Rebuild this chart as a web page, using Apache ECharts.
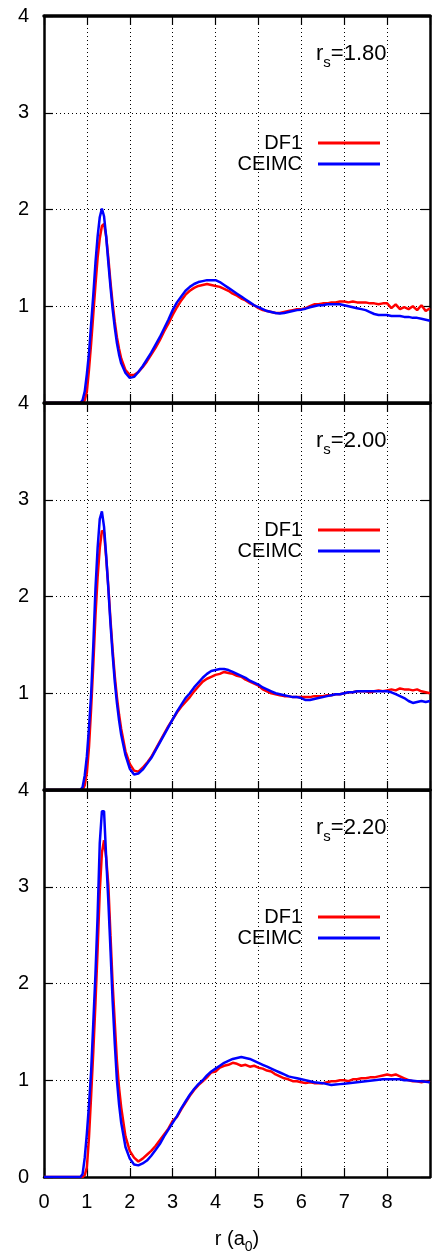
<!DOCTYPE html>
<html><head><meta charset="utf-8">
<script src="https://cdn.jsdelivr.net/npm/echarts@6/dist/echarts.min.js"></script>
<style>html,body{margin:0;padding:0;background:#fff}#c{width:433px;height:1255px}</style>
</head><body><div id="c"></div>
<script>
// r grid (a0)
const r = [0, 0.8, 0.85, 0.9, 0.95, 1.0, 1.05, 1.1, 1.15, 1.2, 1.25, 1.3, 1.35, 1.4, 1.45, 1.5, 1.55, 1.6, 1.65, 1.7, 1.75, 1.8,
  1.9,
  2.0, 2.1, 2.2, 2.3, 2.4, 2.5, 2.6, 2.7, 2.8, 2.9,
  3.0, 3.1, 3.2, 3.3, 3.4, 3.5, 3.6, 3.7, 3.8, 3.9,
  4.0, 4.1, 4.2, 4.3, 4.4, 4.5, 4.6, 4.7, 4.8, 4.9,
  5.0, 5.1, 5.2, 5.3, 5.4, 5.5, 5.6, 5.7, 5.8, 5.9,
  6.0, 6.1, 6.2, 6.3, 6.4, 6.5, 6.6, 6.7, 6.8, 6.9,
  7.0, 7.1, 7.2, 7.3, 7.4, 7.5, 7.6, 7.7, 7.8, 7.9,
  8.0, 8.1, 8.2, 8.3, 8.4, 8.5, 8.6, 8.7, 8.8, 8.9,
  9.0];

const panelLabels = ['1.80', '2.00', '2.20'];
const seriesNames = ['DF1', 'CEIMC'];
const seriesColors = ['#ff0000', '#0000ff'];

const df1_rs180 = [0, 0, 0, 0, 0.03, 0.12, 0.35, 0.62, 0.92, 1.22, 1.5, 1.7, 1.83, 1.85, 1.72, 1.5, 1.25, 1.03, 0.84, 0.68, 0.56, 0.46,
  0.34,
  0.29, 0.29, 0.32, 0.37, 0.43, 0.5, 0.57, 0.65, 0.74, 0.82,
  0.91, 0.99, 1.06, 1.12, 1.16, 1.19, 1.21, 1.22, 1.23, 1.22,
  1.21, 1.2, 1.18, 1.16, 1.13, 1.11, 1.08, 1.06, 1.03, 1.01,
  0.98, 0.96, 0.95, 0.94, 0.93, 0.93, 0.94, 0.95, 0.96, 0.97,
  0.97, 0.98, 1.0, 1.02, 1.02, 1.03, 1.03, 1.04, 1.04, 1.05,
  1.05, 1.04, 1.05, 1.04, 1.04, 1.04, 1.03, 1.03, 1.02, 1.03,
  1.03, 0.98, 1.02, 0.97, 0.99, 0.97, 1.0, 0.96, 1.01, 0.95,
  0.98];
const ceimc_rs180 = [0, 0, 0, 0.03, 0.12, 0.3, 0.52, 0.82, 1.12, 1.45, 1.72, 1.92, 2.01, 1.93, 1.72, 1.45, 1.2, 0.97, 0.78, 0.62, 0.5, 0.41,
  0.31,
  0.26, 0.27, 0.32, 0.38, 0.45, 0.52, 0.6, 0.68, 0.77, 0.86,
  0.96, 1.04, 1.1, 1.16, 1.2, 1.23, 1.25, 1.26, 1.27, 1.27,
  1.27, 1.25, 1.22, 1.19, 1.16, 1.13, 1.1, 1.07, 1.04, 1.01,
  0.99, 0.97, 0.95, 0.94, 0.93, 0.925, 0.93, 0.94, 0.95, 0.96,
  0.965, 0.975, 0.99, 1.0, 1.01, 1.01, 1.02, 1.02, 1.02, 1.02,
  1.01, 1.0, 0.99, 0.98, 0.97, 0.96, 0.94, 0.92, 0.91, 0.91,
  0.91, 0.9, 0.9, 0.9, 0.89, 0.89, 0.88, 0.88, 0.87, 0.86,
  0.85];

const df1_rs200 = [0, 0, 0, 0, 0.05, 0.18, 0.45, 0.85, 1.3, 1.8, 2.2, 2.5, 2.68, 2.66, 2.4, 2.1, 1.76, 1.45, 1.18, 0.96, 0.78, 0.63,
  0.4,
  0.27, 0.2, 0.19, 0.23, 0.28, 0.34, 0.42, 0.5, 0.58, 0.66,
  0.73, 0.8, 0.86, 0.91, 0.96, 1.02, 1.07, 1.12, 1.15, 1.17,
  1.19, 1.2, 1.22, 1.21, 1.2, 1.18, 1.17, 1.14, 1.12, 1.1,
  1.08, 1.04, 1.02, 1.0, 0.99, 0.98, 0.97, 0.97, 0.96, 0.96,
  0.96, 0.96, 0.96, 0.97, 0.97, 0.97, 0.98, 0.98, 0.99, 0.99,
  1.0, 1.01, 1.01, 1.02, 1.02, 1.02, 1.01, 1.02, 1.03, 1.02,
  1.03, 1.04, 1.03, 1.05, 1.04, 1.04, 1.03, 1.04, 1.02, 1.01,
  1.0];
const ceimc_rs200 = [0, 0, 0, 0.03, 0.15, 0.35, 0.65, 1.0, 1.5, 2.08, 2.5, 2.8, 2.88, 2.72, 2.42, 2.08, 1.72, 1.4, 1.12, 0.9, 0.72, 0.57,
  0.36,
  0.22, 0.16, 0.17, 0.21, 0.27, 0.33, 0.41, 0.49, 0.57, 0.65,
  0.73, 0.81, 0.88, 0.95, 1.0, 1.06, 1.11, 1.16, 1.2, 1.23,
  1.24, 1.25, 1.25, 1.24, 1.22, 1.2, 1.18, 1.16, 1.13, 1.11,
  1.09, 1.06, 1.04, 1.02, 1.0, 0.99, 0.98, 0.97, 0.96, 0.96,
  0.95, 0.93, 0.93, 0.94, 0.95, 0.96, 0.97, 0.98, 0.99, 0.99,
  1.0, 1.01, 1.01, 1.02, 1.02, 1.02, 1.02, 1.02, 1.02, 1.02,
  1.02, 1.01, 0.99, 0.97, 0.95, 0.92, 0.9, 0.91, 0.92, 0.91,
  0.92];

const df1_rs220 = [0, 0, 0, 0, 0.02, 0.1, 0.42, 0.85, 1.3, 1.8, 2.35, 2.95, 3.35, 3.48, 3.3, 3.02, 2.5, 2.0, 1.6, 1.2, 0.92, 0.72,
  0.42,
  0.27, 0.2, 0.16, 0.19, 0.23, 0.27, 0.32, 0.38, 0.44, 0.5,
  0.58, 0.62, 0.7, 0.77, 0.84, 0.9, 0.95, 0.99, 1.03, 1.08,
  1.09, 1.13, 1.15, 1.16, 1.18, 1.17, 1.15, 1.16, 1.14, 1.15,
  1.13, 1.12, 1.1, 1.09, 1.06, 1.04, 1.02, 1.01, 0.99, 0.99,
  0.98, 0.97, 0.98, 0.97, 0.97, 0.97, 0.98, 0.99, 0.99, 1.0,
  1.0, 0.99, 1.01, 1.01, 1.02, 1.02, 1.03, 1.03, 1.04, 1.05,
  1.06, 1.05, 1.06, 1.04, 1.02, 1.0, 0.99, 0.99, 0.98, 0.99,
  0.98];
const ceimc_rs220 = [0, 0, 0, 0.03, 0.2, 0.45, 0.75, 1.1, 1.6, 2.1, 2.7, 3.45, 3.78, 3.78, 3.3, 2.85, 2.35, 1.82, 1.38, 1.0, 0.75, 0.56,
  0.31,
  0.19, 0.13, 0.12, 0.14, 0.17, 0.22, 0.28, 0.34, 0.42, 0.49,
  0.56, 0.63, 0.71, 0.78, 0.85, 0.91, 0.96, 1.0, 1.05, 1.09,
  1.12, 1.15, 1.18, 1.2, 1.22, 1.23, 1.24, 1.23, 1.22, 1.2,
  1.18, 1.16, 1.14, 1.12, 1.1, 1.08, 1.06, 1.04, 1.03, 1.02,
  1.01, 1.0, 0.99, 0.98, 0.975, 0.97, 0.96, 0.95, 0.955, 0.96,
  0.965, 0.97, 0.975, 0.98, 0.985, 0.99, 0.995, 1.0, 1.005, 1.01,
  1.01, 1.01, 1.01, 1.01, 1.0, 1.0, 0.995, 0.99, 0.99, 0.985,
  0.98];

const panels = [[df1_rs180, ceimc_rs180], [df1_rs200, ceimc_rs200], [df1_rs220, ceimc_rs220]];

const FONT = '"Liberation Sans", Arial, Helvetica, sans-serif';
const tops = [16, 403, 790];
const H = 387;
const BORDER = 2.5;

const grids = tops.map(t => ({ left: 44, right: 3, top: t, height: H, outerBoundsMode: 'none', containLabel: false }));

function richSub(big, small, pad) {
  return {
    a: { fontSize: big, lineHeight: big, verticalAlign: 'top', color: '#000', fontFamily: FONT, fontWeight: 'normal' },
    b: { fontSize: small, lineHeight: small, padding: [pad, 0, 0, 0], verticalAlign: 'top', color: '#000', fontFamily: FONT, fontWeight: 'normal' }
  };
}

const xAxes = [];
const yAxes = [];
tops.forEach((t, i) => {
  ['bottom', 'top'].forEach(pos => {
    const isBottom = pos === 'bottom';
    const showLabel = isBottom && i === 2;
    xAxes.push({
      type: 'value', gridIndex: i, position: pos, min: 0, max: 9, interval: 1,
      zlevel: isBottom ? 0 : 1, z: isBottom ? 0 : 10,
      axisLine: { show: true, onZero: false, lineStyle: { color: '#000', width: isBottom ? BORDER : 3.5 } },
      axisTick: { show: true, inside: true, length: 9, lineStyle: { color: '#000', width: 1.2 } },
      axisLabel: { show: showLabel, showMaxLabel: false, showMinLabel: true, fontSize: 20, color: '#000', margin: 15, fontFamily: FONT },
      splitLine: { show: isBottom, lineStyle: { color: '#000', type: [1, 3], width: 1 } },
      name: showLabel ? '{a|r (a}{b|0}{a|)}' : '',
      nameLocation: 'middle', nameGap: 52,
      nameTextStyle: { fontWeight: 'normal', rich: richSub(20, 14, 11) }
    });
  });
  ['left', 'right'].forEach(pos => {
    const isLeft = pos === 'left';
    yAxes.push({
      type: 'value', gridIndex: i, position: pos, min: 0, max: 4, interval: 1,
      axisLine: { show: true, onZero: false, lineStyle: { color: '#000', width: BORDER } },
      axisTick: { show: true, inside: true, length: 9, lineStyle: { color: '#000', width: 1.2 } },
      axisLabel: { show: isLeft, showMinLabel: i === 2, showMaxLabel: true, fontSize: 20, color: '#000', margin: 15, fontFamily: FONT },
      splitLine: { show: isLeft, lineStyle: { color: '#000', type: [1, 3], width: 1 } }
    });
  });
});

const series = [];
panels.forEach((p, i) => {
  p.forEach((vals, k) => {
    series.push({
      name: seriesNames[k], type: 'line', xAxisIndex: 2 * i, yAxisIndex: 2 * i,
      data: r.map((x, j) => [x, vals[j]]),
      symbol: 'none', showSymbol: false, smooth: false,
      lineStyle: { color: seriesColors[k], width: 2.5 },
      itemStyle: { color: seriesColors[k] },
      z: 3 + k, animation: false
    });
  });
});

const legends = tops.map(t => ({
  orient: 'vertical', align: 'right', right: 53, top: t + 117, padding: 0,
  itemGap: 1, itemWidth: 62, itemHeight: 3, icon: 'rect', selectedMode: false,
  data: seriesNames,
  itemStyle: { borderWidth: 0 },
  textStyle: { fontSize: 20, color: '#000', fontFamily: FONT, padding: [0, 11, 0, 0] }
}));

const titles = tops.map((t, i) => ({
  left: 316, top: t + 27, padding: 0,
  text: '{a|r}{b|s}{a|=' + panelLabels[i] + '}',
  textStyle: { fontWeight: 'normal', rich: richSub(22, 15, 12) }
}));

const chart = echarts.init(document.getElementById('c'), null, { renderer: 'canvas' });
chart.setOption({
  animation: false,
  backgroundColor: '#fff',
  title: titles,
  legend: legends,
  grid: grids,
  xAxis: xAxes,
  yAxis: yAxes,
  series: series
});
</script>
</body></html>
